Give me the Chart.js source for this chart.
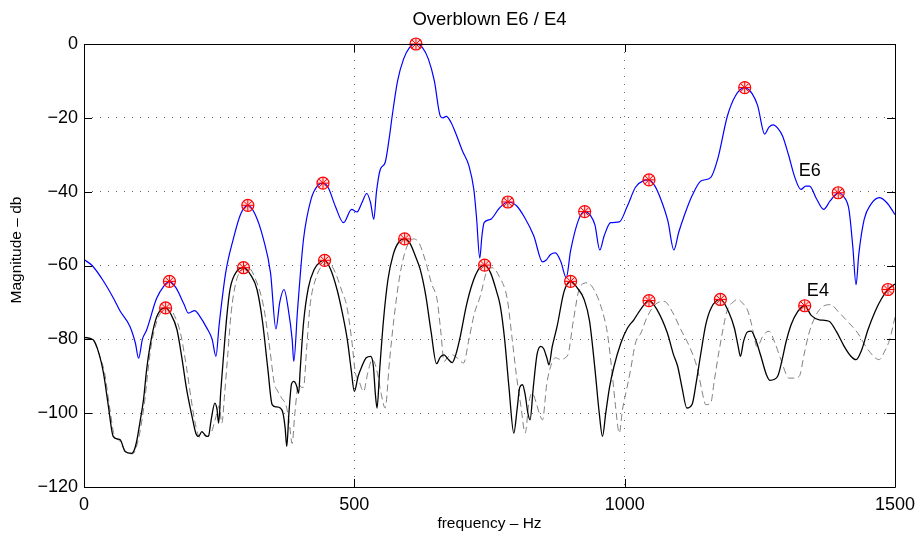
<!DOCTYPE html>
<html>
<head>
<meta charset="utf-8">
<title>Overblown E6 / E4</title>
<script src="https://cdn.jsdelivr.net/npm/chart.js@4.4.1/dist/chart.umd.min.js"></script>
<style>
  html, body { margin: 0; padding: 0; background: #fff; }
  #wrap { width: 917px; height: 536px; }
</style>
</head>
<body>
<div id="wrap"><canvas id="chart" width="917" height="536"></canvas></div>
<script>
// E6 spectrum (blue)
var e6Freq = [0,15,35,55,67,85,95,101,108,116,134,148,158,170,185,193,205,213,227,237,244,250,262,276,290,303,316,332,345,355,362,370,378,385,388,395,406,420,433,442,452,465,480,495,505,514,523,530,536,541,548,557,565,570,580,591,602,614,626,637,648,659,664,670,678,687,700,712,721,726,732,736,740,752,768,784,800,815,832,848,855,863,872,882,892,900,915,926,937,945,954,962,974,990,1005,1020,1035,1045,1056,1067,1080,1091,1100,1110,1125,1141,1159,1172,1190,1205,1222,1236,1246,1259,1267,1275,1283,1292,1303,1314,1326,1335,1342,1355,1368,1380,1395,1406,1415,1422,1428,1433,1443,1455,1471,1485,1500];
var e6Db = [-58.4,-60,-64,-69,-72.4,-76.5,-81,-85.1,-80,-77.4,-69,-65.5,-64.3,-66,-70.5,-72.9,-72.2,-73.5,-76.9,-80,-84.6,-76,-62,-52.9,-46,-43.7,-46,-52.9,-62,-77.2,-70,-66.5,-72,-80,-86,-72,-52.9,-42,-38.2,-37.7,-39,-44,-48.4,-44.8,-45.5,-43,-40.5,-43,-47.5,-40,-34,-32.1,-25,-19.5,-10,-4.1,-1,0,-1,-4.1,-10,-19.5,-20,-19.6,-21,-24,-29,-33,-39.4,-47,-58,-52,-48.4,-47.5,-44.5,-42.8,-43.8,-47,-52,-59,-58.5,-57,-56.6,-59,-63.3,-56,-47.5,-45.4,-46.5,-49,-55.8,-52,-48.4,-48.2,-43.9,-38.8,-37,-36.8,-38.5,-42.1,-48,-55.8,-51,-46.6,-41,-37.1,-36.2,-31.2,-19.5,-14,-11.8,-13.5,-16.7,-24.4,-22.5,-21.9,-22.8,-24.9,-30,-35.8,-39.4,-38.5,-38.5,-42,-44.8,-42.5,-40.3,-41.5,-45,-55,-65.2,-57,-47.5,-43.5,-41.6,-43,-46.2];

// E4 spectrum (black)
var e4Freq = [0,17,28,36,45,54,62,67,76,88,93,98,104,110,116,122,132,142,151,160,172,181,190,200,207,212,218,221,226,230,235,242,246,249,253,258,264,270,283,295,308,320,330,340,348,355,363,368,372,375,379,384,388,393,397,400,406,415,426,437,445,456,468,478,487,494,500,507,514,522,530,535,539,542,547,554,562,572,583,593,603,613,622,632,642,652,659,666,673,681,688,696,707,718,730,741,752,763,770,778,786,795,801,806,811,816,821,825,831,838,845,850,856,860,866,875,888,900,912,925,935,945,953,959,965,972,980,993,1005,1017,1030,1045,1060,1079,1090,1098,1106,1115,1125,1132,1141,1150,1160,1177,1193,1203,1210,1214,1220,1227,1234,1242,1252,1262,1269,1283,1292,1298,1308,1320,1333,1345,1360,1378,1392,1406,1418,1428,1438,1450,1463,1475,1487,1500];
var e4Db = [-79.5,-80.1,-84,-89.1,-98,-106.3,-107,-107.2,-110.4,-110.9,-110,-107.2,-102,-96.4,-88,-81.9,-75,-72,-71.5,-73,-77.4,-85,-93.7,-101,-105.5,-106.3,-105,-105.4,-106.2,-106.3,-102,-97.3,-99,-102.7,-94,-84.6,-74,-66.5,-61.5,-60.6,-62.5,-66.5,-75,-88,-97.7,-98.3,-98.6,-100,-104,-109,-100,-92,-91.4,-92.5,-94.6,-88,-75.6,-66,-61,-59,-58.6,-61,-66.5,-73,-80.1,-88,-94.1,-90,-87.3,-85,-84.6,-87,-95,-98.6,-88,-74.7,-64,-57,-53.5,-52.8,-54,-57.5,-61.1,-68,-78,-86.6,-84.8,-84.2,-85.3,-86.3,-84,-79.2,-71,-65,-61,-59.9,-62,-67,-71,-80,-93,-105.4,-99,-93,-92.3,-95,-100,-101.8,-93,-84,-81.9,-82.5,-85,-86.9,-82,-76.5,-67,-64.3,-66,-69.2,-75,-88,-100,-106.3,-100,-93,-87.5,-81,-77,-74.7,-71.8,-69.5,-72,-78.3,-84,-87.3,-93,-98.6,-97.5,-92,-83.7,-76,-71.5,-69.2,-72.8,-77,-82,-84.6,-80.5,-78,-77.8,-80,-84.6,-89.5,-91.1,-90,-85,-81,-76,-72.5,-70.9,-73.5,-74.7,-75.1,-78,-81.9,-84.5,-85.5,-83,-77.4,-72.5,-69,-66.5,-65];

// dashed grey comparison curve
var refFreq = [0,17,30,38,47,56,66,78,90,100,112,118,124,135,147,157,167,178,190,198,206,214,222,228,236,244,250,255,260,266,272,282,294,304,318,332,344,352,357,366,374,380,385,390,397,402,406,412,418,430,442,452,465,477,486,495,502,508,517,525,533,541,550,557,565,573,585,597,610,620,632,643,653,660,666,672,681,690,702,712,722,733,744,755,768,783,792,800,808,816,823,829,836,842,848,856,865,872,882,890,896,905,918,931,945,958,968,976,983,990,996,1003,1011,1020,1030,1042,1057,1073,1088,1104,1120,1135,1143,1150,1159,1166,1175,1190,1200,1209,1220,1227,1234,1245,1256,1267,1278,1289,1304,1314,1323,1332,1341,1352,1363,1381,1395,1412,1431,1450,1471,1480,1490,1500];
var refDb = [-79.5,-80.3,-85,-89,-98,-106,-107.5,-110.5,-111,-107.5,-97,-89,-82,-75,-72,-71.5,-73.5,-78,-88,-96,-103,-106.5,-106,-106.3,-105,-101,-98,-102.7,-95,-84,-73,-64,-61,-60.6,-64,-71,-83,-92,-93.7,-96,-98,-103,-108.2,-100,-92,-93,-93,-82,-71,-63,-59.8,-59.3,-62,-67,-71,-80,-89.1,-91,-94.1,-89,-85.5,-88,-95,-98.6,-86,-74.7,-62,-55,-52.8,-54,-59,-65,-69.2,-78,-86,-85,-84.2,-85,-86.4,-80,-73,-68.3,-62,-60.6,-63,-69.2,-80,-90,-98,-105.4,-97,-94.6,-97,-100,-101.8,-92,-86.5,-85,-85.5,-85,-83.7,-75,-65.6,-64.7,-67,-72,-78.3,-88,-98,-105.4,-99,-94,-88.2,-81,-78.3,-73.8,-70.5,-69.7,-72.5,-77.4,-82,-88.2,-94,-97.7,-97.3,-91,-82.8,-72,-70,-69.2,-70.5,-72,-75.5,-82,-79,-77.8,-81,-85.5,-90.5,-90.5,-90,-84,-78.3,-74,-71.5,-70.6,-72.5,-75.1,-78.3,-82.8,-85.5,-83.5,-80.1,-74];

// harmonic peaks
var e6PeakFreq = [158, 303, 442, 614, 784, 926, 1045, 1222, 1395];
var e6PeakDb = [-64.3, -43.7, -37.7, 0, -42.8, -45.4, -36.8, -11.8, -40.3];
var e4PeakFreq = [151, 295, 445, 593, 741, 900, 1045, 1177, 1333, 1487];
var e4PeakDb = [-71.5, -60.6, -58.6, -52.8, -59.9, -64.3, -69.5, -69.2, -70.9, -66.5];

// curve labels
var labelText = ["E6", "E4"];
var labelFreq = [1322, 1337];
var labelDb = [-34.5, -67];

var xTicks = [0, 500, 1000, 1500];
var FONT = "'Liberation Sans', Arial, Helvetica, sans-serif";

function toPoints(xs, ys) {
    return xs.map((x, i) => ({ x: x, y: ys[i] }));
}

// MATLAB style: closed box, ticks pointing inwards, text labels
var boxPlugin = {
    id: "matlabBox",
    afterDatasetsDraw(chart) {
        let ctx = chart.ctx;
        let a = chart.chartArea;
        let xs = chart.scales.x, ys = chart.scales.y;
        ctx.save();
        ctx.fillStyle = "#000";
        ctx.font = "18px " + FONT;
        ctx.textAlign = "left";
        ctx.textBaseline = "middle";
        labelText.forEach((t, i) => {
            ctx.fillText(t, xs.getPixelForValue(labelFreq[i]), ys.getPixelForValue(labelDb[i]));
        });
        // title, centred over the plot box
        ctx.textAlign = "center";
        ctx.font = "18.5px " + FONT;
        ctx.fillText("Overblown E6 / E4", (a.left + a.right) / 2, 20);
        // y label
        ctx.font = "15.5px " + FONT;
        ctx.translate(17, 250);
        ctx.rotate(-Math.PI / 2);
        ctx.fillText("Magnitude – db", 0, 0);
        ctx.restore();
    },
    afterDraw(chart) {
        let ctx = chart.ctx;
        let a = chart.chartArea;
        let xs = chart.scales.x, ys = chart.scales.y;
        ctx.save();
        ctx.strokeStyle = "#000";
        ctx.lineWidth = 1;
        ctx.beginPath();
        ctx.rect(Math.round(a.left) + 0.5, Math.round(a.top) + 0.5,
                 Math.round(a.right - a.left), Math.round(a.bottom - a.top));
        xs.ticks.forEach((t) => {
            let px = Math.round(xs.getPixelForValue(t.value)) + 0.5;
            ctx.moveTo(px, a.bottom); ctx.lineTo(px, a.bottom - 8);
            ctx.moveTo(px, a.top); ctx.lineTo(px, a.top + 8);
        });
        ys.ticks.forEach((t) => {
            let py = Math.round(ys.getPixelForValue(t.value)) + 0.5;
            ctx.moveTo(a.left, py); ctx.lineTo(a.left + 8, py);
            ctx.moveTo(a.right, py); ctx.lineTo(a.right - 8, py);
        });
        ctx.stroke();
        ctx.restore();
    }
};

var chart = new Chart(document.getElementById("chart"), {
    type: "scatter",
    data: {
        datasets: [
            {
                label: "E6 peaks (star)",
                data: toPoints(e6PeakFreq, e6PeakDb),
                pointStyle: "star",
                pointRadius: 6,
                borderColor: "#ff0000",
                borderWidth: 1,
                clip: false,
                order: 1
            },
            {
                label: "E6 peaks (circle)",
                data: toPoints(e6PeakFreq, e6PeakDb),
                pointStyle: "circle",
                pointRadius: 6,
                borderColor: "#ff0000",
                backgroundColor: "rgba(255,0,0,0.12)",
                borderWidth: 1.2,
                clip: false,
                order: 1
            },
            {
                label: "E4 peaks (star)",
                data: toPoints(e4PeakFreq, e4PeakDb),
                pointStyle: "star",
                pointRadius: 6,
                borderColor: "#ff0000",
                borderWidth: 1,
                clip: false,
                order: 1
            },
            {
                label: "E4 peaks (circle)",
                data: toPoints(e4PeakFreq, e4PeakDb),
                pointStyle: "circle",
                pointRadius: 6,
                borderColor: "#ff0000",
                backgroundColor: "rgba(255,0,0,0.12)",
                borderWidth: 1.2,
                clip: false,
                order: 1
            },
            {
                label: "E6",
                data: toPoints(e6Freq, e6Db),
                showLine: true,
                borderColor: "#0000ff",
                borderWidth: 1.2,
                pointRadius: 0,
                cubicInterpolationMode: "monotone",
                order: 2
            },
            {
                label: "E4",
                data: toPoints(e4Freq, e4Db),
                showLine: true,
                borderColor: "#000000",
                borderWidth: 1.3,
                pointRadius: 0,
                cubicInterpolationMode: "monotone",
                order: 3
            },
            {
                label: "E4 ref",
                data: toPoints(refFreq, refDb),
                showLine: true,
                borderColor: "#808080",
                borderWidth: 1,
                borderDash: [7, 4],
                pointRadius: 0,
                cubicInterpolationMode: "monotone",
                order: 4
            }
        ]
    },
    options: {
        responsive: false,
        animation: false,
        events: [],
        layout: { padding: { left: 0, right: 22, top: 44, bottom: 0 } },
        plugins: {
            legend: { display: false },
            tooltip: { enabled: false },
            title: { display: false }
        },
        scales: {
            x: {
                type: "linear",
                min: 0,
                max: 1500,
                afterBuildTicks: (s) => { s.ticks = xTicks.map((v) => ({ value: v })); },
                afterFit: (s) => { s.height = 49; s.paddingLeft = 0; s.paddingRight = 0; },
                ticks: {
                    color: "#000",
                    font: { family: FONT, size: 18 },
                    padding: 7,
                    maxRotation: 0,
                    callback: (v) => String(v)
                },
                grid: { color: "rgba(0,0,0,0.6)", lineWidth: 1, drawTicks: false },
                border: { display: false, dash: [1, 7] },
                title: {
                    display: true,
                    text: "frequency – Hz",
                    color: "#000",
                    font: { family: FONT, size: 15.5 },
                    padding: { top: 0, bottom: 3 }
                }
            },
            y: {
                type: "linear",
                min: -120,
                max: 0,
                afterFit: (s) => { s.width = 84; s.paddingTop = 0; s.paddingBottom = 0; },
                ticks: {
                    stepSize: 20,
                    color: "#000",
                    font: { family: FONT, size: 18 },
                    padding: 6,
                    callback: (v) => String(v).replace("-", "\u2212")
                },
                grid: { color: "rgba(0,0,0,0.6)", lineWidth: 1, drawTicks: false },
                border: { display: false, dash: [1, 7] }
            }
        }
    },
    plugins: [boxPlugin]
});
</script>
</body>
</html>
